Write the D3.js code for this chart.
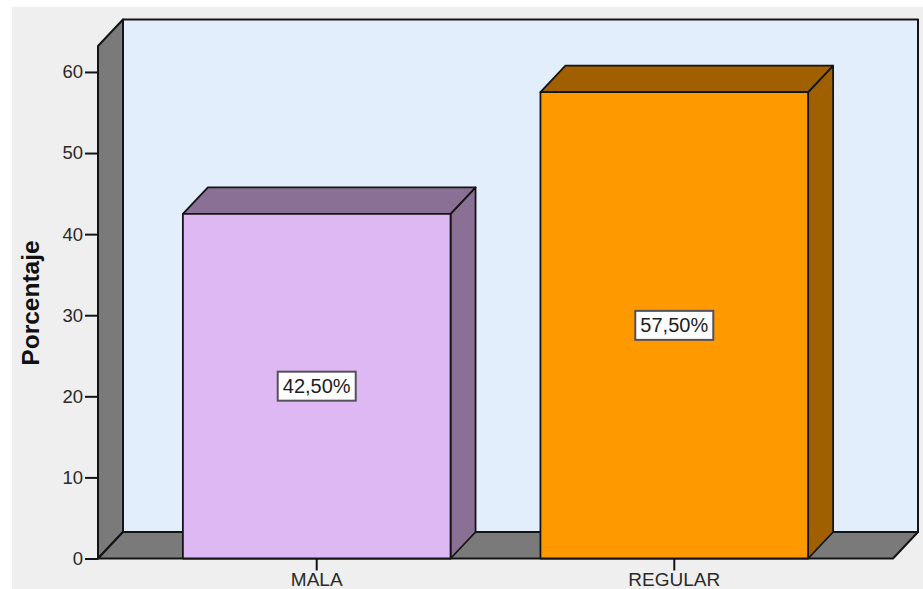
<!DOCTYPE html>
<html>
<head>
<meta charset="utf-8">
<script src="https://cdn.jsdelivr.net/npm/d3@7"></script>
<style>
html, body { margin: 0; padding: 0; background: #fff; overflow: hidden; }
svg { display: block; font-family: "Liberation Sans", Arial, sans-serif; }
</style>
</head>
<body>
<svg id="chart" width="923" height="589"></svg>
<script>
// Chart content
const categories = ["MALA", "REGULAR"];
const percentages = [42.5, 57.5];
const valueLabels = ["42,50%", "57,50%"];
const yTicks = [0, 10, 20, 30, 40, 50, 60];
const yTitle = "Porcentaje";
const frontColors = ["#deb8f3", "#ff9900"];
const shadeColors = ["#8a7094", "#a06000"];

const W = 923, H = 589;
const svg = d3.select("#chart");

// Front plane of the 3D box and the depth offset of its back plane
const plot = { left: 98, right: 893, top: 46, bottom: 558.5 };
const depth = { x: 25, y: -26.5 };
const ink = "#141414";

const y = d3.scaleLinear().domain([0, 63.2]).range([plot.bottom, plot.top]);
const x = d3.scaleBand().domain(categories)
  .range([plot.left, plot.right])
  .paddingInner(0.2514).paddingOuter(0.2374);

const poly = (pts, fill, sw = 2) => svg.append("polygon")
  .attr("points", pts.map(p => p.join(",")).join(" "))
  .attr("fill", fill).attr("stroke", ink)
  .attr("stroke-width", sw).attr("stroke-linejoin", "round");

// Page panel
svg.append("rect").attr("x", 12).attr("y", 7).attr("width", W - 12).attr("height", H - 7).attr("fill", "#efefef");

// Box: back wall, left wall, floor
const L = plot.left, R = plot.right, T = plot.top, B = plot.bottom, dx = depth.x, dy = depth.y;
poly([[L + dx, T + dy], [R + dx, T + dy], [R + dx, B + dy], [L + dx, B + dy]], "#e2eefb");
poly([[L, T], [L + dx, T + dy], [L + dx, B + dy], [L, B]], "#7a7a7a");
poly([[L, B], [L + dx, B + dy], [R + dx, B + dy], [R, B]], "#7a7a7a");

// Bars: right side, top, then front face
categories.forEach((c, i) => {
  const x0 = x(c), x1 = x0 + x.bandwidth(), yt = y(percentages[i]), yb = y(0);
  poly([[x1, yt], [x1 + dx, yt + dy], [x1 + dx, yb + dy], [x1, yb]], shadeColors[i], 1.8);
  poly([[x0, yt], [x0 + dx, yt + dy], [x1 + dx, yt + dy], [x1, yt]], shadeColors[i], 1.8);
  poly([[x0, yt], [x1, yt], [x1, yb], [x0, yb]], frontColors[i], 1.8);
});

// Value axis
const yAxis = svg.append("g")
  .attr("transform", `translate(${plot.left},0)`)
  .call(d3.axisLeft(y).tickValues(yTicks).tickSize(13).tickPadding(2).tickFormat(d3.format("d")));
yAxis.select(".domain").remove();
yAxis.selectAll("line").attr("stroke", ink).attr("stroke-width", 2);
yAxis.selectAll("text").attr("font-size", 18.5).attr("fill", "#2a2a2a");

// Category axis
const xAxis = svg.append("g")
  .attr("transform", `translate(0,${plot.bottom})`)
  .call(d3.axisBottom(x).tickSize(12).tickPadding(2));
xAxis.select(".domain").remove();
xAxis.selectAll("line").attr("stroke", ink).attr("stroke-width", 2);
xAxis.selectAll("text").attr("font-size", 19).attr("fill", "#2a2a2a");

// Axis title
svg.append("text")
  .attr("transform", "translate(39,303) rotate(-90)")
  .attr("text-anchor", "middle")
  .attr("font-size", 24.5).attr("font-weight", "bold").attr("fill", "#111")
  .text(yTitle);

// Value labels, centred in each bar
categories.forEach((c, i) => {
  const cx = x(c) + x.bandwidth() / 2, cy = y(percentages[i] / 2);
  svg.append("rect")
    .attr("x", cx - 39).attr("y", cy - 14.5).attr("width", 78).attr("height", 29)
    .attr("fill", "#fff").attr("stroke", "#55505a").attr("stroke-width", 2);
  svg.append("text")
    .attr("x", cx).attr("y", cy + 7)
    .attr("text-anchor", "middle").attr("font-size", 20).attr("fill", "#1c1c1c")
    .text(valueLabels[i]);
});
</script>
</body>
</html>
